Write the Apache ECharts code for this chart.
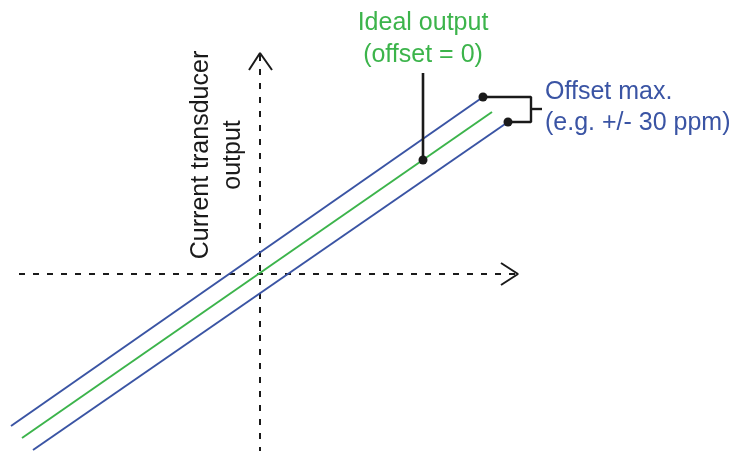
<!DOCTYPE html>
<html>
<head>
<meta charset="utf-8">
<script src="https://cdn.jsdelivr.net/npm/echarts@6/dist/echarts.min.js"></script>
<style>
  html, body { margin: 0; background: #fff; }
  #main { width: 738px; height: 451px; }
</style>
</head>
<body>
<div id="main"></div>
<script>
// schematic data, in plot units (origin = where the two dashed axes cross)
var idealLine = [[-23.8, -16.5], [23.2, 16.1]];
var upperLine = [[-24.9, -15.3], [22.3, 17.6]];
var lowerLine = [[-22.7, -17.7], [24.8, 15.1]];
var xAxisLine = [[-24.1, -0.1], [25.8, -0.1]];
var yAxisLine = [[0, 21.8], [0, -17.8]];
var xArrow = [[24.1, 1.0], [25.8, -0.1], [24.1, -1.2]];
var yArrow = [[-1.1, 20.3], [0, 22.0], [1.2, 20.3]];
var bracket = [[22.3, 17.6], [27.1, 17.6], [27.1, 15.1], [24.8, 15.1]];
var bracketTick = [[27.1, 16.4], [28.2, 16.4]];
var leader = [[16.3, 20.0], [16.3, 11.3]];
var dots = [[22.3, 17.6], [24.8, 15.1], [16.3, 11.3]];

var yTitle = 'Current transducer\noutput';
var idealText = 'Ideal output\n(offset = 0)';
var offsetText = 'Offset max.\n(e.g. +/- 30 ppm)';

var blue = '#3a54a4';
var green = '#3cb44b';
var ink = '#1a1a1a';
var font = '"Liberation Sans", Arial, sans-serif';

var myChart = echarts.init(document.getElementById('main'));

function line(data, color, width, type) {
  return {
    type: 'line',
    data: data,
    symbol: 'none',
    silent: true,
    lineStyle: { color: color, width: width, type: type || 'solid' }
  };
}

myChart.setOption({
  animation: false,
  backgroundColor: '#fff',
  grid: { left: 0, right: 0, top: 0, bottom: 0 },
  xAxis: { type: 'value', min: -26, max: 47.8, show: false },
  yAxis: { type: 'value', min: -17.8, max: 27.3, show: false },
  series: [
    line(xAxisLine, ink, 2, [6, 8]),
    line(yAxisLine, ink, 2, [6, 8]),
    line(xArrow, ink, 2),
    line(yArrow, ink, 2),
    line(upperLine, blue, 2),
    line(lowerLine, blue, 2),
    line(idealLine, green, 2),
    line(bracket, ink, 2.4),
    line(bracketTick, ink, 2.4),
    line(leader, ink, 2.6),
    {
      type: 'scatter',
      data: dots,
      symbolSize: 9,
      silent: true,
      z: 5,
      itemStyle: { color: ink, opacity: 1 }
    }
  ],
  graphic: [
    {
      type: 'text',
      x: 217, y: 155,
      rotation: Math.PI / 2,
      style: { text: yTitle, font: '25px ' + font, fill: ink, align: 'center', verticalAlign: 'middle', lineHeight: 32 }
    },
    {
      type: 'text',
      x: 423, y: 39,
      style: { text: idealText, font: '25px ' + font, fill: green, align: 'center', verticalAlign: 'middle', lineHeight: 32 }
    },
    {
      type: 'text',
      x: 545, y: 108,
      style: { text: offsetText, font: '25px ' + font, fill: blue, align: 'left', verticalAlign: 'middle', lineHeight: 31 }
    }
  ]
});
</script>
</body>
</html>
